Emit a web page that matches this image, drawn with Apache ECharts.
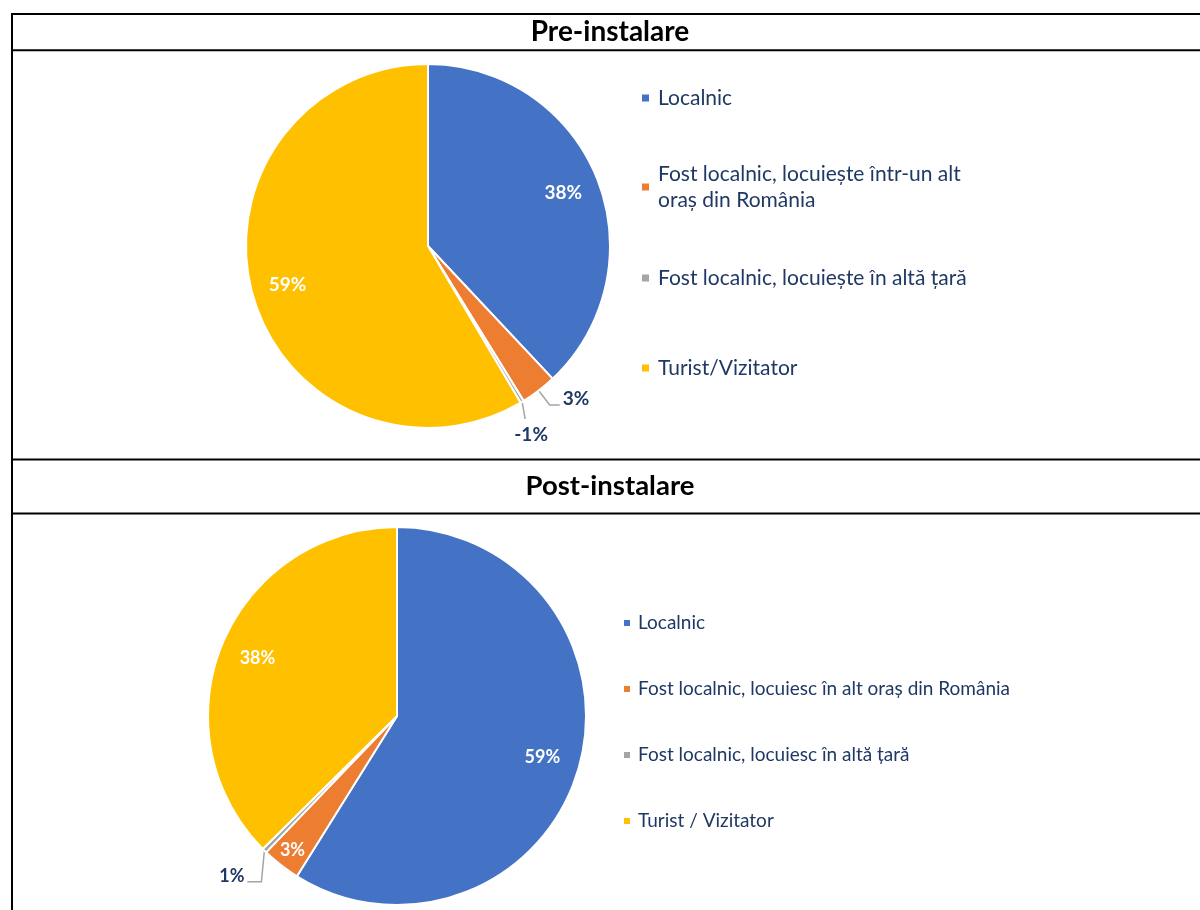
<!DOCTYPE html>
<html>
<head>
<meta charset="utf-8">
<script src="https://cdn.jsdelivr.net/npm/echarts@6/dist/echarts.min.js"></script>
<style>
  body { margin: 0; background: #fff; }
  #main { width: 1200px; height: 910px; }
</style>
</head>
<body>
<div id="main"></div>
<script>
// date
const preNames = ['Localnic', 'Fost localnic, locuiește într-un alt oraș din România', 'Fost localnic, locuiește în altă țară', 'Turist/Vizitator'];
const preValues = [38, 3.2, 0.3, 58.5];
const preLabels = ['38%', '3%', '-1%', '59%'];

const postNames = ['Localnic', 'Fost localnic, locuiesc în alt oraș din România', 'Fost localnic, locuiesc în altă țară', 'Turist / Vizitator'];
const postValues = [59, 3.3, 0.4, 37.5];
const postLabels = ['59%', '3%', '1%', '38%'];

const colors = ['#4472C4', '#ED7D31', '#A5A5A5', '#FFC000'];
const navy = '#1F3864';
const font = 'Lato';

// geometrie pie
const PRE = { cx: 428, cy: 246, r: 182 };
const POST = { cx: 397, cy: 716, r: 189 };
// etichete afisate in afara feliei
const outside = [[1, 2], [2]];

function midAngle(values, i) {
  const total = values.reduce((a, b) => a + b, 0);
  let start = 0;
  for (let k = 0; k < i; k++) start += values[k];
  return (start + values[i] / 2) / total * 360;
}
function pt(g, deg, k) {
  const a = deg * Math.PI / 180;
  return [g.cx + k * g.r * Math.sin(a), g.cy - k * g.r * Math.cos(a)];
}

function buildData(names, values, s) {
  return values.map((v, i) => {
    const out = outside[s].indexOf(i) >= 0;
    return {
      name: names[i],
      value: v,
      itemStyle: { color: colors[i] },
      label: out
        ? { position: 'outside', color: navy, fontWeight: 'bold', fontSize: s === 0 ? 19 : 18 }
        : { position: 'inside', color: '#fff', fontWeight: 'bold', fontSize: s === 0 ? 19 : 18 },
      labelLine: { show: out }
    };
  });
}

function layoutLabel(params) {
  const s = params.seriesIndex;
  const i = params.dataIndex;
  const g = s === 0 ? PRE : POST;
  const values = s === 0 ? preValues : postValues;
  const deg = midAngle(values, i);
  if (outside[s].indexOf(i) < 0) {
    const k = values[i] < 5 ? 0.9 : 0.8;
    const p = pt(g, deg, k);
    return { x: p[0], y: p[1], align: 'center', verticalAlign: 'middle' };
  }
  const e = pt(g, deg, 1);
  if (s === 0 && i === 1) {
    const m = pt(g, deg, 1.1);
    const h = [m[0] + 10, m[1]];
    return { x: h[0] + 3, y: m[1] - 6, align: 'left', verticalAlign: 'middle', labelLinePoints: [e, m, h] };
  }
  if (s === 0 && i === 2) {
    const m = [e[0] + 3, e[1] + 17];
    return { x: e[0] + 9, y: e[1] + 33, align: 'center', verticalAlign: 'middle', labelLinePoints: [e, m, m] };
  }
  const m = [e[0] - 3, e[1] + 31];
  const h = [m[0] - 14, m[1]];
  return { x: h[0] - 3, y: m[1] - 5, align: 'right', verticalAlign: 'middle', labelLinePoints: [e, m, h] };
}

const pieCommon = {
  type: 'pie',
  startAngle: 90,
  clockwise: true,
  avoidLabelOverlap: false,
  itemStyle: { borderColor: '#fff', borderWidth: 2 },
  label: { show: true, fontFamily: font },
  labelLine: { lineStyle: { color: '#A5A5A5', width: 1.5 } },
  labelLayout: layoutLabel,
  emphasis: { scale: false }
};

const legendBase = {
  orient: 'vertical',
  padding: 0,
  icon: 'rect',
  itemWidth: 9,
  itemHeight: 9,
  selectedMode: false
};
const preText = { fontSize: 21, color: navy, fontFamily: font, lineHeight: 26, padding: [0, 0, 0, 3] };
const preCenters = [98, 187, 278, 368];

const legends = preNames.map((n, i) => Object.assign({}, legendBase, {
  data: [n],
  left: 640,
  top: i === 1 ? preCenters[i] - 39 : preCenters[i] - 13,
  formatter: name => name.replace(' alt oraș', ' alt\noraș'),
  textStyle: i === 1 ? Object.assign({}, preText, { padding: [26, 0, 0, 3] }) : preText
}));
legends.push(Object.assign({}, legendBase, {
  data: postNames,
  left: 622,
  top: 612,
  itemGap: 44,
  itemWidth: 8,
  itemHeight: 8,
  textStyle: { fontSize: 19, color: navy, fontFamily: font, lineHeight: 22, padding: [0, 0, 0, 2] }
}));

const lineStyle = { stroke: '#000', lineWidth: 2 };
const hLines = [14, 50.3, 459.5, 513.5];

const option = {
  animation: false,
  title: [
    { text: 'Pre-instalare', left: 610, top: 32, padding: 0, textAlign: 'center', textVerticalAlign: 'middle',
      textStyle: { fontSize: 28, fontWeight: 'bold', color: '#000', fontFamily: font } },
    { text: 'Post-instalare', left: 610, top: 486.5, padding: 0, textAlign: 'center', textVerticalAlign: 'middle',
      textStyle: { fontSize: 27.5, fontWeight: 'bold', color: '#000', fontFamily: font } }
  ],
  legend: legends,
  graphic: [
    { type: 'line', shape: { x1: 12, y1: 13, x2: 12, y2: 910 }, style: lineStyle, silent: true }
  ].concat(hLines.map(y => ({ type: 'line', shape: { x1: 11, y1: y, x2: 1200, y2: y }, style: lineStyle, silent: true }))),
  series: [
    Object.assign({}, pieCommon, {
      name: 'Pre-instalare',
      center: [PRE.cx, PRE.cy],
      radius: [0, PRE.r],
      label: Object.assign({}, pieCommon.label, { formatter: p => preLabels[p.dataIndex] }),
      data: buildData(preNames, preValues, 0)
    }),
    Object.assign({}, pieCommon, {
      name: 'Post-instalare',
      center: [POST.cx, POST.cy],
      radius: [0, POST.r],
      label: Object.assign({}, pieCommon.label, { formatter: p => postLabels[p.dataIndex] }),
      data: buildData(postNames, postValues, 1)
    })
  ]
};

const chart = echarts.init(document.getElementById('main'));
chart.setOption(option);
</script>
</body>
</html>
